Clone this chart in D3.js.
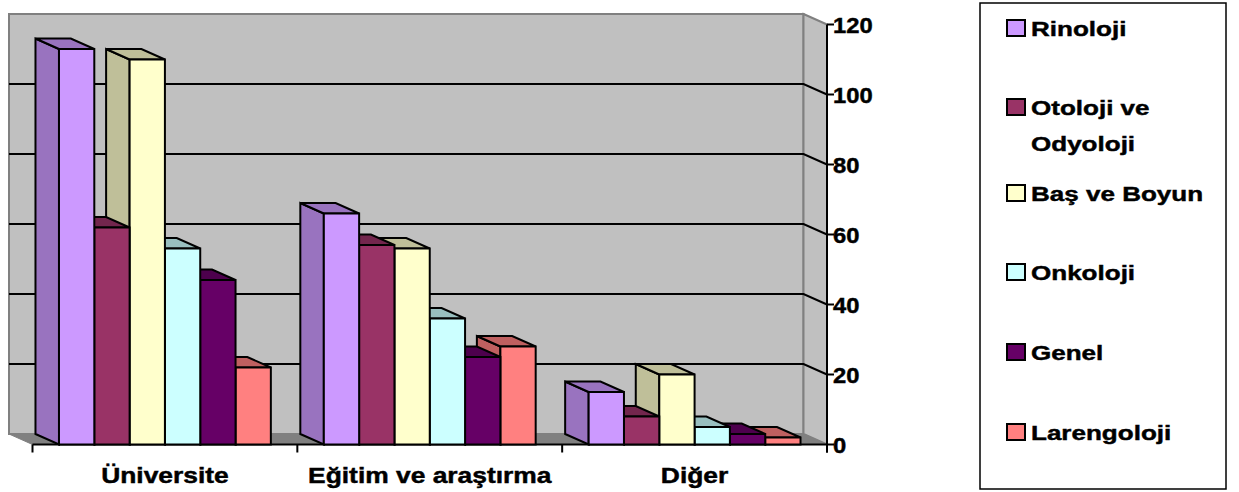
<!DOCTYPE html>
<html>
<head>
<meta charset="utf-8">
<script src="https://cdn.jsdelivr.net/npm/d3@7"></script>
<style>
  body { margin: 0; background: #fff; }
  svg { display: block; }
  text { font-family: "Liberation Sans", Arial, sans-serif; font-weight: bold; fill: #000; stroke: #000; stroke-width: 0.45px; }
</style>
</head>
<body>
<svg id="chart" width="1239" height="492"></svg>
<script>
// Clinic counts by institution type and sub-specialty
const categories = ["Üniversite", "Eğitim ve araştırma", "Diğer"];
const seriesNames = ["Rinoloji", "Otoloji ve Odyoloji", "Baş ve Boyun", "Onkoloji", "Genel", "Larengoloji"];
const rinoloji    = [113, 66, 15];
const otoloji     = [62, 57, 8];
const basBoyun    = [110, 56, 20];
const onkoloji    = [56, 36, 5];
const genel       = [47, 25, 3];
const larengoloji = [22, 28, 2];
const seriesColors = ["#CC99FF", "#993366", "#FFFFCC", "#CCFFFF", "#660066", "#FF8080"];
const legendLines = [["Rinoloji"], ["Otoloji ve", "Odyoloji"], ["Baş ve Boyun"], ["Onkoloji"], ["Genel"], ["Larengoloji"]];
const yTicks = [0, 20, 40, 60, 80, 100, 120];

const seriesValues = [rinoloji, otoloji, basBoyun, onkoloji, genel, larengoloji];

const svg = d3.select("#chart");

// oblique 3D frame: front plane and depth offset toward the back (up-left)
const frontLeft = 32.5, frontRight = 827;
const depthX = -23.5, depthY = -10.5;
const y = d3.scaleLinear().domain([0, 120]).range([444.5, 24.5]);
const x = d3.scaleBand().domain(categories).range([frontLeft, frontRight]).padding(0);
const xs = d3.scaleBand().domain(seriesNames).range([0, x.bandwidth()]).paddingInner(0).paddingOuter(0.75);

const shade = (c, k) => { const r = d3.rgb(c); return d3.rgb(r.r * k, r.g * k, r.b * k).formatHex(); };
const pts = arr => arr.map(p => p.join(",")).join(" ");

// walls and floor
const bx0 = frontLeft + depthX, bx1 = frontRight + depthX;
const by = v => y(v) + depthY;
svg.append("rect")
  .attr("x", bx0).attr("y", by(120)).attr("width", bx1 - bx0).attr("height", by(0) - by(120))
  .attr("fill", "#C0C0C0").attr("stroke", "#808080").attr("stroke-width", 2);
svg.append("polygon")
  .attr("points", pts([[bx1, by(120)], [frontRight, y(120)], [frontRight, y(0)], [bx1, by(0)]]))
  .attr("fill", "#C0C0C0").attr("stroke", "#808080").attr("stroke-width", 2);
svg.append("polygon")
  .attr("points", pts([[bx0, by(0)], [bx1, by(0)], [frontRight, y(0)], [frontLeft, y(0)]]))
  .attr("fill", "#808080").attr("stroke", "#808080").attr("stroke-width", 1);

// gridlines on back and side wall
const grid = yTicks.filter(t => t > 0 && t < 120);
svg.append("g").selectAll("polyline").data(grid).join("polyline")
  .attr("points", t => pts([[bx0, by(t)], [bx1, by(t)], [frontRight, y(t)]]))
  .attr("fill", "none").attr("stroke", "#000").attr("stroke-width", 2);

// value axis on the right
const yAxis = svg.append("g");
yAxis.append("line").attr("x1", frontRight).attr("x2", frontRight)
  .attr("y1", y(120)).attr("y2", y(0) + 8).attr("stroke", "#000").attr("stroke-width", 2);
yAxis.selectAll("line.tick").data(yTicks).join("line").attr("class", "tick")
  .attr("x1", frontRight).attr("x2", frontRight + 7)
  .attr("y1", d => y(d)).attr("y2", d => y(d)).attr("stroke", "#000").attr("stroke-width", 2);
yAxis.selectAll("text").data(yTicks).join("text")
  .attr("transform", d => `translate(${frontRight + 6},${y(d) + 8}) scale(1.08,1)`)
  .attr("font-size", 22).text(d => d);

// category axis along the front edge of the floor
const xAxis = svg.append("g");
xAxis.append("line").attr("x1", frontLeft).attr("x2", frontRight)
  .attr("y1", y(0)).attr("y2", y(0)).attr("stroke", "#000").attr("stroke-width", 2);
const edges = categories.map(c => x(c)).concat([frontRight]);
xAxis.selectAll("line.tick").data(edges).join("line").attr("class", "tick")
  .attr("x1", d => d).attr("x2", d => d).attr("y1", y(0)).attr("y2", y(0) + 8)
  .attr("stroke", "#000").attr("stroke-width", 2);
xAxis.selectAll("text").data(categories).join("text")
  .attr("transform", c => `translate(${x(c) + x.bandwidth() / 2},483) scale(1.2,1)`)
  .attr("text-anchor", "middle").attr("font-size", 22).text(c => c);

// 3D columns, drawn right to left so nearer neighbours cover hidden faces
const bars = [];
categories.forEach((c, ci) => {
  seriesNames.forEach((s, si) => {
    bars.push({ c, s, si, v: seriesValues[si][ci] });
  });
});
bars.reverse();
const gBars = svg.append("g").attr("stroke", "#000").attr("stroke-width", 2).attr("stroke-linejoin", "miter");
bars.forEach(b => {
  const xl = x(b.c) + xs(b.s), xr = xl + xs.bandwidth();
  const yt = y(b.v), yb = y(0);
  const col = seriesColors[b.si];
  const dark = shade(col, 0.75);
  const g = gBars.append("g");
  g.append("polygon").attr("fill", dark)
    .attr("points", pts([[xl, yt], [xl + depthX, yt + depthY], [xl + depthX, yb + depthY], [xl, yb]]));
  g.append("polygon").attr("fill", dark)
    .attr("points", pts([[xl, yt], [xl + depthX, yt + depthY], [xr + depthX, yt + depthY], [xr, yt]]));
  g.append("rect").attr("fill", col)
    .attr("x", xl).attr("y", yt).attr("width", xr - xl).attr("height", yb - yt);
});

// legend
const legend = svg.append("g");
legend.append("rect").attr("x", 980).attr("y", 3).attr("width", 246).attr("height", 486)
  .attr("fill", "#fff").attr("stroke", "#000").attr("stroke-width", 1.5);
const legendY = [28, 107, 193, 272, 352, 432];
const items = legend.selectAll("g.item").data(seriesNames).join("g").attr("class", "item")
  .attr("transform", (d, i) => `translate(0,${legendY[i]})`);
items.append("rect").attr("x", 1007).attr("y", -8).attr("width", 18).attr("height", 16)
  .attr("fill", (d, i) => seriesColors[i]).attr("stroke", "#000").attr("stroke-width", 2);
items.each(function (d, i) {
  d3.select(this).selectAll("text").data(legendLines[i]).join("text")
    .attr("transform", (t, k) => `translate(1031,${7.5 + k * 36}) scale(1.24,1)`)
    .attr("font-size", 21).text(t => t);
});
</script>
</body>
</html>
